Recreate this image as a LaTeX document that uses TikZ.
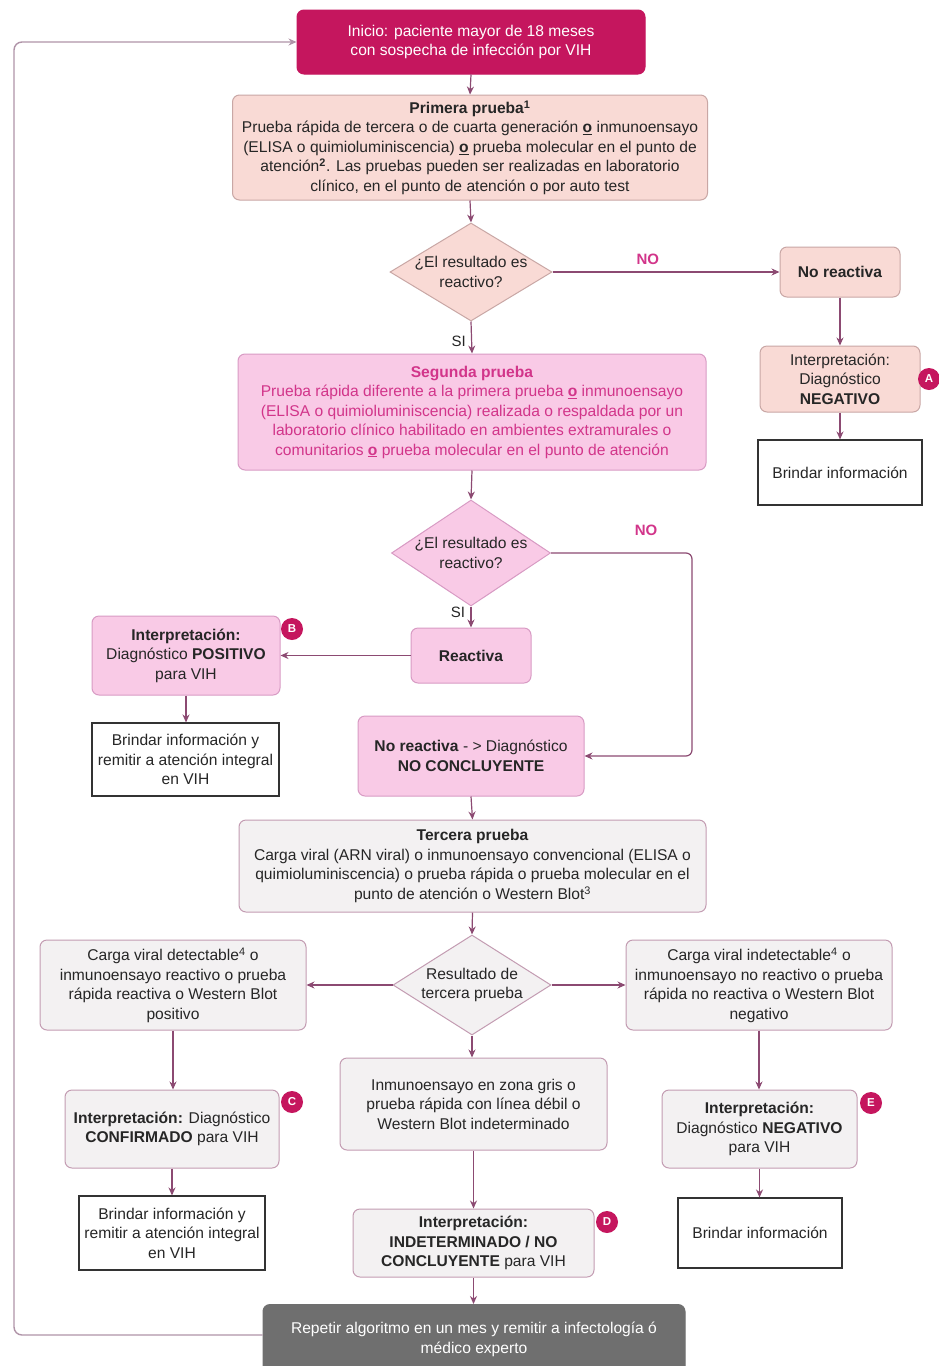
\documentclass[tikz,border=0pt]{standalone}
\usepackage{fontspec}
\setmainfont{Liberation Sans}
\usetikzlibrary{shapes.geometric,arrows.meta,calc}
\definecolor{cline}{HTML}{8C4A72}
\definecolor{cloop}{HTML}{B094A8}
\definecolor{magen}{HTML}{C5165E}
\definecolor{salf}{HTML}{F9DAD5}
\definecolor{sald}{HTML}{C9A7A5}
\definecolor{pinkf}{HTML}{F9CAE6}
\definecolor{pinkd}{HTML}{D89BC4}
\definecolor{greyf}{HTML}{F3F1F2}
\definecolor{greyd}{HTML}{C39CB2}
\definecolor{segtxt}{HTML}{D2358A}
\definecolor{txt}{HTML}{262626}
\definecolor{repf}{HTML}{6F6F6F}
\tikzset{
  base/.style={rounded corners=7pt, align=center, line width=1pt, inner sep=2pt, text=txt,
    font=\fontsize{15.6}{19.5}\selectfont},
  salbox/.style={base, fill=salf, draw=sald},
  pinkbox/.style={base, fill=pinkf, draw=pinkd},
  greybox/.style={base, fill=greyf, draw=greyd},
  whitebox/.style={base, rounded corners=0pt, fill=white, draw=black!80, line width=1.1pt},
  startbox/.style={base, fill=magen, draw=magen, text=white},
  repbox/.style={base, fill=repf, draw=repf, text=white},
  dec/.style={diamond, draw, line width=1pt, inner sep=0pt},
  dectext/.style={align=center, text=txt, font=\fontsize{15.6}{19.5}\selectfont},
  conn/.style={draw=cline, line width=1.2pt, -{Stealth[length=8pt,width=7pt]}},
  loopline/.style={draw=cloop, line width=1.4pt, rounded corners=8pt, -{Stealth[length=8pt,width=7pt]}},
  badge/.style={circle, fill=magen, text=white, inner sep=0pt, minimum size=22pt,
    font=\fontsize{11.5}{11.5}\selectfont\bfseries},
  nolab/.style={text=segtxt, font=\fontsize{15}{15}\selectfont\bfseries},
  silab/.style={text=txt, font=\fontsize{15}{15}\selectfont},
}
\newcommand{\uo}{\underline{\textbf{o}}}
\begin{document}
\begin{tikzpicture}[x=1pt,y=-1pt]
\useasboundingbox (0,0) rectangle (939,1366);
\clip (0,0) rectangle (939,1366);
\fill[white] (0,0) rectangle (939,1366);

% nodes
\node[startbox, minimum width=348pt, minimum height=64pt] (start) at (471,42)
  {Inicio: paciente mayor de 18 meses\\con sospecha de infección por VIH};
\node[salbox, minimum width=475pt, minimum height=105pt] (prim) at (470,147.5)
  {\textbf{Primera prueba\textsuperscript{1}}\\
   Prueba rápida de tercera o de cuarta generación \uo{} inmunoensayo\\
   (ELISA o quimioluminiscencia) \uo{} prueba molecular en el punto de\\
   atención\textsuperscript{\textbf{2}}. Las pruebas pueden ser realizadas en laboratorio\\
   clínico, en el punto de atención o por auto test};
\node[dec, fill=salf, draw=sald, minimum width=162pt, minimum height=98pt] (d1) at (471,272) {};
\node[dectext] (d1t) at (d1.center) {¿El resultado es\\reactivo?};
\node[salbox, minimum width=120pt, minimum height=50pt] (nr1) at (840,272) {\textbf{No reactiva}};
\node[salbox, minimum width=160pt, minimum height=66pt] (intA) at (840,379)
  {Interpretación:\\Diagnóstico\\\textbf{NEGATIVO}};
\node[badge] (bA) at (929,379) {A};
\node[whitebox, minimum width=164pt, minimum height=65pt] (brA) at (840,472.5) {Brindar información};

\node[pinkbox, text=segtxt, minimum width=468pt, minimum height=116pt] (seg) at (472,412)
  {\textbf{Segunda prueba}\\
   Prueba rápida diferente a la primera prueba \uo{} inmunoensayo\\
   (ELISA o quimioluminiscencia) realizada o respaldada por un\\
   laboratorio clínico habilitado en ambientes extramurales o\\
   comunitarios \uo{} prueba molecular en el punto de atención};
\node[dec, fill=pinkf, draw=pinkd, minimum width=159pt, minimum height=106pt] (d2) at (471,553) {};
\node[dectext] (d2t) at (d2.center) {¿El resultado es\\reactivo?};
\node[pinkbox, minimum width=120pt, minimum height=55pt] (reac) at (471,655.5) {\textbf{Reactiva}};
\node[pinkbox, minimum width=188pt, minimum height=79pt] (intB) at (186,655.5)
  {\textbf{Interpretación:}\\Diagnóstico \textbf{POSITIVO}\\para VIH};
\node[badge] (bB) at (292,629) {B};
\node[whitebox, minimum width=187pt, minimum height=73pt] (brB) at (185.5,759.5)
  {Brindar información y\\remitir a atención integral\\en VIH};
\node[pinkbox, minimum width=226pt, minimum height=80pt] (nc) at (471,756)
  {\textbf{No reactiva} - > Diagnóstico\\\textbf{NO CONCLUYENTE}};

\node[greybox, minimum width=467pt, minimum height=92pt] (ter) at (472.5,866)
  {\textbf{Tercera prueba}\\
   Carga viral (ARN viral) o inmunoensayo convencional (ELISA o\\
   quimioluminiscencia) o prueba rápida o prueba molecular en el\\
   punto de atención o Western Blot\textsuperscript{3}};
\node[dec, fill=greyf, draw=greyd, minimum width=158pt, minimum height=100pt] (d3) at (472,985) {};
\node[dectext] (d3t) at (d3.center) {Resultado de\\tercera prueba};
\node[greybox, minimum width=266pt, minimum height=90pt] (lft) at (173,985)
  {Carga viral detectable\textsuperscript{4} o\\inmunoensayo reactivo o prueba\\rápida reactiva o Western Blot\\positivo};
\node[greybox, minimum width=266pt, minimum height=90pt] (rgt) at (759,985)
  {Carga viral indetectable\textsuperscript{4} o\\inmunoensayo no reactivo o prueba\\rápida no reactiva o Western Blot\\negativo};
\node[greybox, minimum width=267pt, minimum height=92pt] (mid) at (473.5,1104)
  {Inmunoensayo en zona gris o\\prueba rápida con línea débil o\\Western Blot indeterminado};
\node[greybox, minimum width=214pt, minimum height=78pt] (intC) at (172,1129)
  {\textbf{Interpretación:} Diagnóstico\\\textbf{CONFIRMADO} para VIH};
\node[badge] (bC) at (292,1102) {C};
\node[whitebox, minimum width=186pt, minimum height=74pt] (brC) at (172,1233)
  {Brindar información y\\remitir a atención integral\\en VIH};
\node[greybox, minimum width=241pt, minimum height=68pt] (intD) at (473.5,1243)
  {\textbf{Interpretación:}\\\textbf{INDETERMINADO / NO}\\\textbf{CONCLUYENTE} para VIH};
\node[badge] (bD) at (607,1222) {D};
\node[greybox, minimum width=195pt, minimum height=78pt] (intE) at (759.5,1129)
  {\textbf{Interpretación:}\\Diagnóstico \textbf{NEGATIVO}\\para VIH};
\node[badge] (bE) at (871,1103) {E};
\node[whitebox, minimum width=164pt, minimum height=70pt] (brE) at (760,1233) {Brindar información};
\node[repbox, minimum width=422pt, minimum height=70pt, anchor=north] (rep) at (474,1304)
  {Repetir algoritmo en un mes y remitir a infectología ó\\médico experto};

% connectors
\draw[conn] (start.south) -- (prim.north);
\draw[conn] (prim.south) -- (d1.north);
\draw[conn] (d1.east) -- (nr1.west) node[nolab, pos=0.42, above=3pt] (no1) {NO};
\draw[conn] (nr1.south) -- (intA.north);
\draw[conn] (intA.south) -- (brA.north);
\draw[conn] (d1.south) -- (seg.north) node[silab, pos=0.62, left=2pt] (si1) {SI};
\draw[conn] (seg.south) -- (d2.north);
\draw[conn, rounded corners=6pt] (d2.east) -- ++(141,0) coordinate (c2) |- (nc.east);
\node[nolab] (no2) at (646,530) {NO};
\draw[conn] (d2.south) -- (reac.north) node[silab, pos=0.3, left=2pt] (si2) {SI};
\draw[conn] (reac.west) -- (intB.east);
\draw[conn] (intB.south) -- (intB.south |- brB.north);
\draw[conn] (nc.south) -- (ter.north);
\draw[conn] (ter.south) -- (d3.north);
\draw[conn] (d3.west) -- (lft.east);
\draw[conn] (d3.east) -- (rgt.west);
\draw[conn] (d3.south) -- (d3.south |- mid.north);
\draw[conn] (lft.south) -- (lft.south |- intC.north);
\draw[conn] (intC.south) -- (brC.north);
\draw[conn] (mid.south) -- (mid.south |- intD.north);
\draw[conn] (rgt.south) -- (rgt.south |- intE.north);
\draw[conn] (intE.south) -- (intE.south |- brE.north);
\draw[conn] (intD.south) -- (intD.south |- rep.north);
\coordinate (lp) at (14,42);
\draw[loopline] ([yshift=-31pt]rep.north west) -| (lp) -- (start.west);
\end{tikzpicture}
\end{document}
